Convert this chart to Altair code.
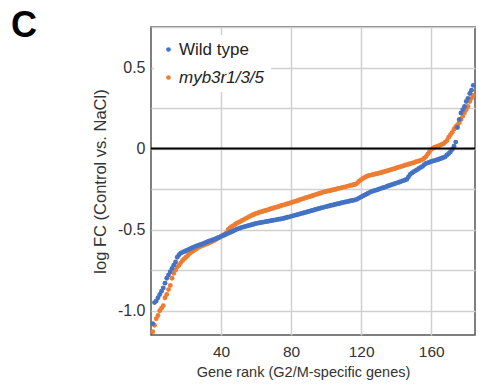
import altair as alt
import pandas as pd

wild_type = [
    -1.08, -0.95, -0.94, -0.92, -0.90, -0.88, -0.86, -0.83, -0.80, -0.78,
    -0.76, -0.74, -0.72, -0.70, -0.67, -0.655, -0.645, -0.64, -0.635, -0.63,
    -0.625, -0.62, -0.615, -0.61, -0.605, -0.60, -0.597, -0.593, -0.59, -0.585,
    -0.58, -0.576, -0.572, -0.568, -0.564, -0.56, -0.556, -0.552, -0.548, -0.543,
    -0.538, -0.533, -0.528, -0.523, -0.518, -0.513, -0.508, -0.503, -0.498, -0.494,
    -0.49, -0.486, -0.483, -0.48, -0.477, -0.474, -0.471, -0.468, -0.465, -0.462,
    -0.46, -0.458, -0.456, -0.454, -0.452, -0.45, -0.448, -0.446, -0.444, -0.442,
    -0.44, -0.438, -0.436, -0.434, -0.432, -0.43, -0.427, -0.424, -0.421, -0.418,
    -0.415, -0.412, -0.409, -0.406, -0.403, -0.40, -0.397, -0.394, -0.391, -0.388,
    -0.385, -0.382, -0.379, -0.376, -0.373, -0.37, -0.367, -0.364, -0.361, -0.358,
    -0.356, -0.353, -0.35, -0.348, -0.345, -0.342, -0.34, -0.337, -0.334, -0.332,
    -0.33, -0.327, -0.325, -0.322, -0.32, -0.318, -0.315, -0.31, -0.304, -0.298,
    -0.292, -0.287, -0.281, -0.276, -0.27, -0.265, -0.262, -0.258, -0.255, -0.251,
    -0.247, -0.243, -0.24, -0.236, -0.232, -0.228, -0.225, -0.221, -0.217, -0.213,
    -0.21, -0.206, -0.202, -0.198, -0.194, -0.19, -0.175, -0.16, -0.15, -0.143,
    -0.136, -0.13, -0.123, -0.116, -0.11, -0.10, -0.092, -0.088, -0.084, -0.08,
    -0.077, -0.074, -0.07, -0.067, -0.063, -0.06, -0.055, -0.05, -0.04, -0.03,
    -0.02, -0.005, 0.015, 0.04, 0.13, 0.18, 0.22, 0.24, 0.26, 0.29,
    0.31, 0.34, 0.36, 0.39,
]

mutant = [
    -1.13, -1.09, -1.05, -1.03, -1.00, -0.985, -0.97, -0.92, -0.90, -0.87,
    -0.845, -0.80, -0.77, -0.75, -0.73, -0.72, -0.705, -0.69, -0.68, -0.67,
    -0.66, -0.648, -0.64, -0.632, -0.625, -0.618, -0.61, -0.605, -0.60, -0.596,
    -0.592, -0.588, -0.583, -0.578, -0.573, -0.568, -0.561, -0.554, -0.547, -0.54,
    -0.535, -0.53, -0.52, -0.50, -0.49, -0.482, -0.475, -0.468, -0.461, -0.455,
    -0.45, -0.444, -0.438, -0.432, -0.426, -0.42, -0.415, -0.41, -0.405, -0.40,
    -0.397, -0.393, -0.39, -0.387, -0.383, -0.38, -0.377, -0.373, -0.37, -0.367,
    -0.363, -0.36, -0.357, -0.353, -0.35, -0.347, -0.343, -0.34, -0.337, -0.334,
    -0.33, -0.327, -0.323, -0.32, -0.316, -0.312, -0.309, -0.305, -0.302, -0.298,
    -0.295, -0.291, -0.288, -0.284, -0.281, -0.277, -0.274, -0.27, -0.267, -0.265,
    -0.262, -0.26, -0.257, -0.254, -0.252, -0.249, -0.246, -0.244, -0.241, -0.238,
    -0.236, -0.233, -0.23, -0.228, -0.225, -0.222, -0.22, -0.21, -0.20, -0.192,
    -0.185, -0.178, -0.172, -0.168, -0.165, -0.162, -0.16, -0.157, -0.155, -0.152,
    -0.149, -0.146, -0.143, -0.14, -0.137, -0.134, -0.13, -0.127, -0.124, -0.12,
    -0.117, -0.113, -0.11, -0.107, -0.103, -0.10, -0.097, -0.093, -0.09, -0.087,
    -0.083, -0.08, -0.076, -0.072, -0.068, -0.06, -0.05, -0.035, -0.02, -0.005,
    0.003, 0.008, 0.012, 0.016, 0.02, 0.025, 0.03, 0.04, 0.05, 0.07,
    0.085, 0.10, 0.12, 0.135, 0.145, 0.16, 0.18, 0.20, 0.22, 0.24,
    0.26, 0.29, 0.31, 0.33,
]

series_names = ["Wild type", "myb3r1/3/5"]
series_colors = ["#4472C4", "#ED7D31"]
x_ticks = [40, 80, 120, 160]
y_grid = [-1.0, -0.75, -0.5, -0.25, 0, 0.25, 0.5, 0.75]

rows = []
for i, v in enumerate(wild_type):
    rows.append({"rank": i + 1, "fc": v, "genotype": series_names[0]})
for i, v in enumerate(mutant):
    rows.append({"rank": i + 1, "fc": v, "genotype": series_names[1]})
df = pd.DataFrame(rows)

font = "Liberation Sans"

y_label_expr = (
    "datum.value == 0 ? '0' : "
    "(abs(datum.value * 2 - round(datum.value * 2)) < 0.001 ? "
    "((datum.value < 0 ? '-' : '') + format(abs(datum.value), '.1f')) : '')"
)

points = alt.Chart(df).mark_circle(size=24, opacity=1).encode(
    x=alt.X("rank:Q",
            scale=alt.Scale(domain=[0, 185], nice=False, zero=False),
            axis=alt.Axis(values=x_ticks, title="Gene rank (G2/M-specific genes)",
                          ticks=False, labelPadding=9, titlePadding=6,
                          labelFontSize=15.5, titleFontSize=14.5, titleX=152,
                          domain=False, gridColor="#d0d0d0", gridWidth=1.5)),
    y=alt.Y("fc:Q",
            scale=alt.Scale(domain=[-1.15, 0.75], nice=False, zero=False),
            axis=alt.Axis(values=y_grid, title="log FC (Control vs. NaCl)",
                          labelExpr=y_label_expr,
                          ticks=False, labelPadding=6, titlePadding=9,
                          labelFontSize=16, titleFontSize=16.5,
                          domain=False, gridColor="#d0d0d0", gridWidth=1.5)),
    color=alt.Color("genotype:N",
                    scale=alt.Scale(domain=series_names, range=series_colors),
                    sort=series_names,
                    legend=alt.Legend(title=None, orient="none", legendX=3, legendY=8,
                                      fillColor="white", padding=6,
                                      symbolType="circle", symbolSize=22,
                                      labelFontSize=17, labelOffset=2,
                                      rowPadding=10,
                                      labelFontStyle=alt.ExprRef("datum.label == 'myb3r1/3/5' ? 'italic' : 'normal'"))),
    order=alt.Order("genotype:N", sort="descending"),
)

zero = alt.Chart(pd.DataFrame({"y": [0]})).mark_rule(color="black", strokeWidth=2).encode(
    y=alt.Y("y:Q")
)

chart = alt.layer(points, zero).properties(
    width=324, height=308,
    autosize=alt.AutoSizeParams(type="none"),
    padding={"left": 151, "top": 27, "right": 3, "bottom": 57},
    title=alt.Title("C", anchor="start", frame="group", fontSize=36, fontWeight="bold",
                    font=font, color="black", dx=-140, dy=31, offset=-15, baseline="alphabetic"),
).configure_view(
    stroke="#555555", strokeWidth=1.5
).configure_axis(
    labelFont=font, titleFont=font,
    labelColor="#333333", titleColor="#333333", titleFontWeight="normal"
).configure_legend(
    labelFont=font, labelColor="#222222"
)

chart.save("out.html", embed_options={"renderer": "svg", "actions": False})
